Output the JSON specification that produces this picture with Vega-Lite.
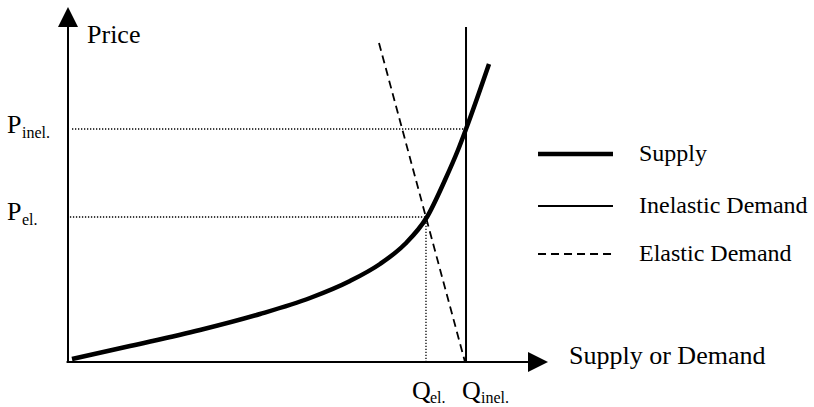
{
  "$schema": "https://vega.github.io/schema/vega-lite/v6.json",
  "width": 814,
  "height": 407,
  "autosize": "none",
  "padding": 0,
  "background": "white",
  "config": {"view": {"stroke": null}},
  "datasets": {
    "supply": [
      {"q": 0.83, "p": 0.85},
      {"q": 12.92, "p": 4.51},
      {"q": 27.5, "p": 9.01},
      {"q": 40.0, "p": 13.52},
      {"q": 50.42, "p": 18.03},
      {"q": 58.75, "p": 22.82},
      {"q": 65.0, "p": 27.61},
      {"q": 70.21, "p": 33.24},
      {"q": 74.79, "p": 40.85},
      {"q": 78.54, "p": 51.27},
      {"q": 81.25, "p": 59.72},
      {"q": 82.92, "p": 65.63},
      {"q": 87.71, "p": 83.94}
    ],
    "segs": [
      {"kind": "axis", "q": 0, "p": -0.3, "q2": 0, "p2": 94.4},
      {"kind": "axis", "q": -0.3, "p": 0, "q2": 95.83, "p2": 0},
      {"kind": "inelastic", "q": 82.92, "p": 0, "q2": 82.92, "p2": 94.37},
      {"kind": "elastic", "q": 64.79, "p": 89.86, "q2": 82.71, "p2": 0},
      {"kind": "guide", "q": 0.83, "p": 65.63, "q2": 82.7, "p2": 65.63},
      {"kind": "guide", "q": 0.4, "p": 40.85, "q2": 74.58, "p2": 40.85},
      {"kind": "guide", "q": 74.58, "p": 0, "q2": 74.58, "p2": 40.85},
      {"kind": "supply", "q": 97.92, "p": 58.59, "q2": 113.54, "p2": 58.59},
      {"kind": "inelastic", "q": 97.92, "p": 43.94, "q2": 113.54, "p2": 43.94},
      {"kind": "elastic", "q": 97.92, "p": 30.42, "q2": 113.54, "p2": 30.42}
    ],
    "arrows": [
      {"dir": "up", "q": 0, "p": 97.18},
      {"dir": "right", "q": 97.92, "p": 0}
    ],
    "labels": [
      {"role": "main", "text": "Price", "q": 3.96, "p": 89.86},
      {"role": "main", "text": "P", "q": -12.7, "p": 64.51},
      {"role": "sub", "text": "inel.", "q": -9.58, "p": 63.1},
      {"role": "main", "text": "P", "q": -12.7, "p": 40.0},
      {"role": "sub", "text": "el.", "q": -9.58, "p": 38.59},
      {"role": "main", "text": "Q", "q": 71.67, "p": -10.42},
      {"role": "sub", "text": "el.", "q": 75.42, "p": -11.55},
      {"role": "main", "text": "Q", "q": 82.08, "p": -10.42},
      {"role": "sub", "text": "inel.", "q": 86.04, "p": -11.55},
      {"role": "main", "text": "Supply or Demand", "q": 104.38, "p": -0.56},
      {"role": "legend", "text": "Supply", "q": 118.96, "p": 58.59},
      {"role": "legend", "text": "Inelastic Demand", "q": 118.96, "p": 43.94},
      {"role": "legend", "text": "Elastic Demand", "q": 118.96, "p": 30.42}
    ]
  },
  "layer": [
    {
      "data": {"name": "segs"},
      "transform": [{"filter": "datum.kind === 'axis' || datum.kind === 'inelastic'"}],
      "mark": {"type": "rule", "color": "black", "strokeWidth": 2, "strokeCap": "butt"},
      "encoding": {
        "x": {"field": "q", "type": "quantitative", "axis": null, "scale": {"domain": [0, 100], "range": [68, 548], "nice": false, "zero": false}},
        "y": {"field": "p", "type": "quantitative", "axis": null, "scale": {"domain": [0, 100], "range": [362, 7], "nice": false, "zero": false}},
        "x2": {"field": "q2"},
        "y2": {"field": "p2"}
      }
    },
    {
      "data": {"name": "segs"},
      "transform": [{"filter": "datum.kind === 'elastic'"}],
      "mark": {"type": "rule", "color": "black", "strokeWidth": 1.8, "strokeDash": [8, 5], "strokeCap": "butt"},
      "encoding": {
        "x": {"field": "q", "type": "quantitative"},
        "y": {"field": "p", "type": "quantitative"},
        "x2": {"field": "q2"},
        "y2": {"field": "p2"}
      }
    },
    {
      "data": {"name": "segs"},
      "transform": [{"filter": "datum.kind === 'guide'"}],
      "mark": {"type": "rule", "color": "black", "strokeWidth": 1.3, "strokeDash": [1.3, 1.7], "strokeCap": "butt"},
      "encoding": {
        "x": {"field": "q", "type": "quantitative"},
        "y": {"field": "p", "type": "quantitative"},
        "x2": {"field": "q2"},
        "y2": {"field": "p2"}
      }
    },
    {
      "data": {"name": "segs"},
      "transform": [{"filter": "datum.kind === 'supply'"}],
      "mark": {"type": "rule", "color": "black", "strokeWidth": 4.5, "strokeCap": "butt"},
      "encoding": {
        "x": {"field": "q", "type": "quantitative"},
        "y": {"field": "p", "type": "quantitative"},
        "x2": {"field": "q2"},
        "y2": {"field": "p2"}
      }
    },
    {
      "data": {"name": "supply"},
      "mark": {"type": "line", "color": "black", "strokeWidth": 4.5, "interpolate": "monotone"},
      "encoding": {
        "x": {"field": "q", "type": "quantitative"},
        "y": {"field": "p", "type": "quantitative"}
      }
    },
    {
      "data": {"name": "arrows"},
      "mark": {"type": "point", "filled": true, "color": "black", "opacity": 1, "size": 400, "strokeWidth": 0},
      "encoding": {
        "x": {"field": "q", "type": "quantitative"},
        "y": {"field": "p", "type": "quantitative"},
        "shape": {"field": "dir", "type": "nominal", "legend": null, "scale": {"domain": ["up", "right"], "range": ["M-1,1L0,-1L1,1Z", "M-1,-1L1,0L-1,1Z"]}}
      }
    },
    {
      "data": {"name": "labels"},
      "transform": [{"filter": "datum.role === 'main'"}],
      "mark": {"type": "text", "font": "Liberation Serif", "fontSize": 26, "align": "left", "baseline": "alphabetic", "color": "black"},
      "encoding": {
        "x": {"field": "q", "type": "quantitative"},
        "y": {"field": "p", "type": "quantitative"},
        "text": {"field": "text"}
      }
    },
    {
      "data": {"name": "labels"},
      "transform": [{"filter": "datum.role === 'sub'"}],
      "mark": {"type": "text", "font": "Liberation Serif", "fontSize": 16, "align": "left", "baseline": "alphabetic", "color": "black"},
      "encoding": {
        "x": {"field": "q", "type": "quantitative"},
        "y": {"field": "p", "type": "quantitative"},
        "text": {"field": "text"}
      }
    },
    {
      "data": {"name": "labels"},
      "transform": [{"filter": "datum.role === 'legend'"}],
      "mark": {"type": "text", "font": "Liberation Serif", "fontSize": 24, "align": "left", "baseline": "middle", "color": "black"},
      "encoding": {
        "x": {"field": "q", "type": "quantitative"},
        "y": {"field": "p", "type": "quantitative"},
        "text": {"field": "text"}
      }
    }
  ]
}
